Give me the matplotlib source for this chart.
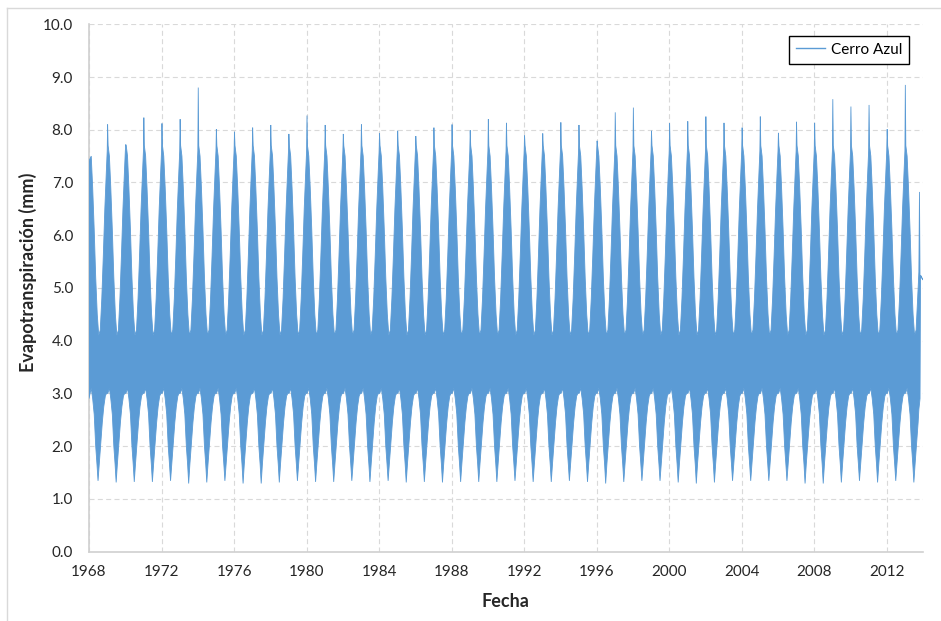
import numpy as np
import matplotlib
matplotlib.use('Agg')
import matplotlib.pyplot as plt
import matplotlib.dates as mdates
from matplotlib.lines import Line2D

plt.rcParams['font.family'] = ['Lato', 'DejaVu Sans']

''' Data (read off the chart) '''

years = list(range(1968, 2014))

# yearly summer peak of daily ET (mm), around mid January
peak_et = [7.41, 8.10, 7.72, 8.23, 8.12, 8.20, 8.80, 8.01, 7.96, 8.04,
           8.09, 7.92, 8.27, 8.09, 7.92, 8.10, 7.93, 7.98, 7.88, 8.04,
           8.10, 7.99, 8.20, 8.13, 7.89, 7.93, 8.14, 8.09, 7.79, 8.33,
           8.42, 7.98, 8.12, 8.16, 8.25, 8.13, 8.04, 8.25, 7.94, 8.15,
           8.13, 8.58, 8.44, 8.47, 8.01, 8.85]

# yearly winter minimum of daily ET (mm), around early July
trough_et = [1.34, 1.31, 1.32, 1.32, 1.34, 1.29, 1.31, 1.34, 1.29, 1.29,
             1.31, 1.34, 1.32, 1.32, 1.34, 1.32, 1.34, 1.31, 1.32, 1.31,
             1.32, 1.32, 1.32, 1.34, 1.32, 1.32, 1.34, 1.32, 1.29, 1.32,
             1.34, 1.34, 1.31, 1.29, 1.31, 1.34, 1.34, 1.34, 1.34, 1.29,
             1.29, 1.31, 1.34, 1.31, 1.34, 1.31]

PEAK_DAY = '01-10'
TROUGH_DAY = '07-01'

# upper edge of the daily band through the rest of the year
upper_days = ['01-02', '01-20', '02-15', '03-15', '04-15', '05-15', '06-15',
              '07-15', '08-15', '09-15', '10-15', '11-15', '12-15']
upper_vals = [7.6, 7.7, 7.5, 6.9, 6.1, 5.2, 4.5, 4.1, 4.2, 4.8, 5.6, 6.5, 7.2]

# lower edge of the daily band
lower_days = ['01-15', '02-15', '03-15', '04-15', '05-15', '06-10', '07-25',
              '08-25', '09-25', '10-25', '11-25', '12-20']
lower_vals = [3.0, 3.1, 2.9, 2.6, 2.0, 1.65, 1.65, 2.05, 2.45, 2.75, 2.95, 3.0]

# first day and the last weeks of the record
start_date = '1968-01-01'
start_lower = 2.9
tail_dates = ['2013-10-10', '2013-10-22', '2013-11-02', '2013-11-12', '2013-12-31']
tail_upper = [5.3, 6.82, 5.2, 5.24, 5.15]
tail_lower = [2.7, 2.8, 2.9, 5.24, 5.15]


''' Build the band edges '''

def buildEdge(days, vals, extremeDay, extremes, startVal):
    pts = []
    for yr, ext in zip(years, extremes):
        pts += [(f'{yr}-{d}', v) for d, v in zip(days, vals)]
        pts.append((f'{yr}-{extremeDay}', ext))
    pts.sort()
    dates = np.array([p[0] for p in pts], dtype='datetime64[D]')
    values = np.array([p[1] for p in pts])

    # clip to the record, then add the first day and the tail
    keep = (dates > np.datetime64('1968-01-20')) & (dates < np.datetime64(tail_dates[0]))
    dates = np.concatenate([[np.datetime64(start_date)], dates[keep]])
    values = np.concatenate([[startVal], values[keep]])
    return dates, values

upX, upY = buildEdge(upper_days, upper_vals, PEAK_DAY, peak_et, peak_et[0])
loX, loY = buildEdge(lower_days, lower_vals, TROUGH_DAY, trough_et, start_lower)

tail = np.array(tail_dates, dtype='datetime64[D]')
upX = mdates.date2num(np.concatenate([upX, tail]))
loX = mdates.date2num(np.concatenate([loX, tail]))
upY = np.concatenate([upY, tail_upper])
loY = np.concatenate([loY, tail_lower])


''' Plot '''

BLUE = '#5B9BD5'
GRID = '#D9D9D9'

fig = plt.figure(figsize=(9.41, 6.21), dpi=100)
ax = fig.add_axes([89/941, 1 - 551.5/621, 834/941, 527.2/621])

ax.fill(np.concatenate([upX, loX[::-1]]), np.concatenate([upY, loY[::-1]]),
        facecolor=BLUE, edgecolor=BLUE, lw=0.6, zorder=3)

ax.set_xlim(mdates.date2num(np.datetime64('1968-01-01')),
            mdates.date2num(np.datetime64('2014-01-01')))
ax.set_ylim(0, 10)

tickYears = np.array([f'{y}-01-01' for y in range(1968, 2013, 4)], dtype='datetime64[D]')
ax.set_xticks(mdates.date2num(tickYears))
ax.set_xticklabels([str(y) for y in range(1968, 2013, 4)])
ax.set_yticks(np.arange(0, 11, 1))
ax.set_yticklabels([f'{v:.1f}' for v in range(0, 11)])

ax.tick_params(length=0, labelsize=11, colors='#262626')
ax.tick_params(axis='y', pad=11.5)
ax.tick_params(axis='x', pad=10)

ax.grid(True, color=GRID, linestyle=(0, (4.5, 3)), lw=0.8)
ax.set_axisbelow(True)

for side in ['top', 'right']:
    ax.spines[side].set_visible(False)
for side in ['left', 'bottom']:
    ax.spines[side].set_color('#D0D0D0')
    ax.spines[side].set_linewidth(1.2)

ax.set_ylabel('Evapotranspiración (mm)', fontsize=13, fontweight='bold', color='#262626', va='center')
ax.yaxis.set_label_coords(-0.073, 0.529)
ax.set_xlabel('Fecha', fontsize=13, fontweight='bold', color='#262626', va='center')
ax.xaxis.set_label_coords(0.499, -0.094)

handle = Line2D([], [], color=BLUE, lw=1.0)
leg = ax.legend([handle], ['Cerro Azul'], loc='upper right', bbox_to_anchor=(0.983, 0.978),
                borderaxespad=0, fontsize=11, fancybox=False, handlelength=1.9,
                handletextpad=0.35, borderpad=0.45, framealpha=1)
leg.get_frame().set_edgecolor('black')
leg.get_frame().set_linewidth(1.0)

# outer chart-area border (left and top edges are visible)
fig.add_artist(Line2D([7/941, 7/941], [0, 1 - 8/621], transform=fig.transFigure, color=GRID, lw=1))
fig.add_artist(Line2D([7/941, 1], [1 - 8/621, 1 - 8/621], transform=fig.transFigure, color=GRID, lw=1))

fig.savefig('out.png', dpi=100)
